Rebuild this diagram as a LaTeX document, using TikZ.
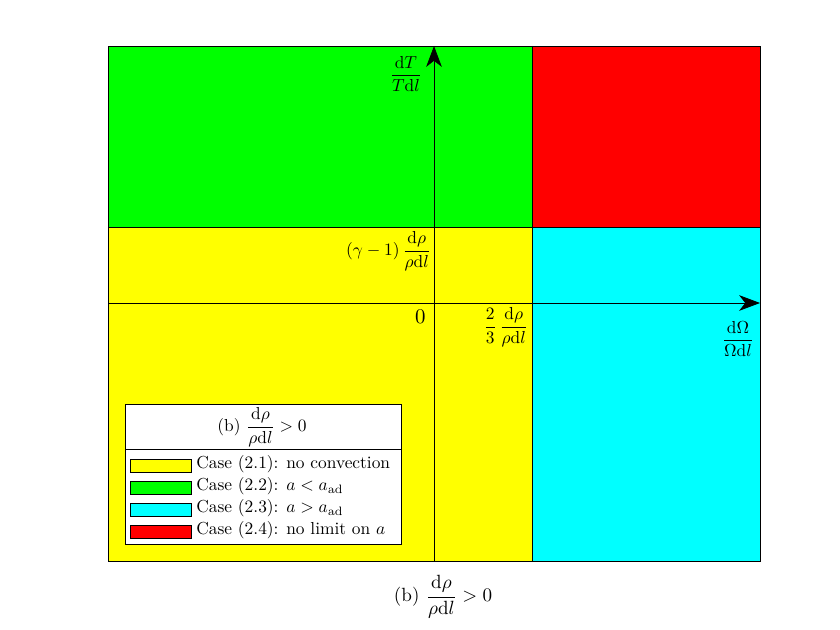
\documentclass[tikz,border=0pt]{standalone}
\usepackage{amsmath}
\usetikzlibrary{arrows.meta}
\definecolor{cgreen}{RGB}{0,255,0}
\definecolor{cred}{RGB}{255,0,0}
\definecolor{cyellow}{RGB}{255,255,0}
\definecolor{ccyan}{RGB}{0,255,255}
\begin{document}
\begin{tikzpicture}[x=0.575pt,y=-0.575pt,
  region/.style={draw=black,line width=0.45pt},
  axis/.style={line width=0.45pt,-{Stealth[length=12pt,width=9pt,inset=3.5pt]}},
  swatch/.style={draw=black,line width=0.45pt,minimum width=35pt,minimum height=7.5pt,inner sep=0pt,anchor=west},
  lbl/.style={anchor=west,inner sep=0pt}]
\useasboundingbox (0,0) rectangle (840,630);
% regions
\fill[cgreen] (108,46) rectangle (532,227);
\fill[cred] (532,46) rectangle (760,227);
\fill[cyellow] (108,227) rectangle (532,561);
\fill[ccyan] (532,227) rectangle (760,561);
\draw[region] (108,46) rectangle (760,561);
\draw[region] (108,227) -- (760,227);
\draw[region] (532,46) -- (532,561);
% axes
\coordinate (ybot) at (434,561);
\coordinate (ytop) at (434,46);
\coordinate (xl) at (108,303);
\coordinate (xr) at (760,303);
\draw[axis] (ybot) -- (ytop);
\draw[axis] (xl) -- (xr);
% labels
\node[anchor=north east,inner sep=1pt] (yl) at (424,54) {$\dfrac{\mathrm{d}T}{T\mathrm{d}l}$};
\node[anchor=east,inner sep=1pt] (gl) at (433,251) {$(\gamma-1)\,\dfrac{\mathrm{d}\rho}{\rho\mathrm{d}l}$};
\node[anchor=north east,inner sep=1pt,scale=1.2] (zero) at (428,308) {$0$};
\node[anchor=east,inner sep=1pt] (tt) at (530,327) {$\dfrac{2}{3}\,\dfrac{\mathrm{d}\rho}{\rho\mathrm{d}l}$};
\node[anchor=east,inner sep=1pt] (xlab) at (756,339) {$\dfrac{\mathrm{d}\Omega}{\Omega\mathrm{d}l}$};
% legend
\draw[fill=white,line width=0.45pt] (125,404) rectangle (401,544);
\draw[line width=0.45pt] (125,449) -- (401,449);
\node (lt) at (262,427) {(b) $\dfrac{\mathrm{d}\rho}{\rho\mathrm{d}l}>0$};
\node[swatch,fill=cyellow] (s1) at (130,465.5) {};
\node[swatch,fill=cgreen] (s2) at (130,487.5) {};
\node[swatch,fill=ccyan] (s3) at (130,509.5) {};
\node[swatch,fill=cred] (s4) at (130,531.5) {};
\node[lbl] (t1) at (196,464.5) {Case (2.1): no convection};
\node[lbl] (t2) at (196,486.5) {Case (2.2): $a<a_{\mathrm{ad}}$};
\node[lbl] (t3) at (196,508.5) {Case (2.3): $a>a_{\mathrm{ad}}$};
\node[lbl] (t4) at (196,530.5) {Case (2.4): no limit on $a$};
% caption
\node[scale=1.1] (cap) at (443,597) {(b) $\dfrac{\mathrm{d}\rho}{\rho\mathrm{d}l}>0$};
\end{tikzpicture}
\end{document}
